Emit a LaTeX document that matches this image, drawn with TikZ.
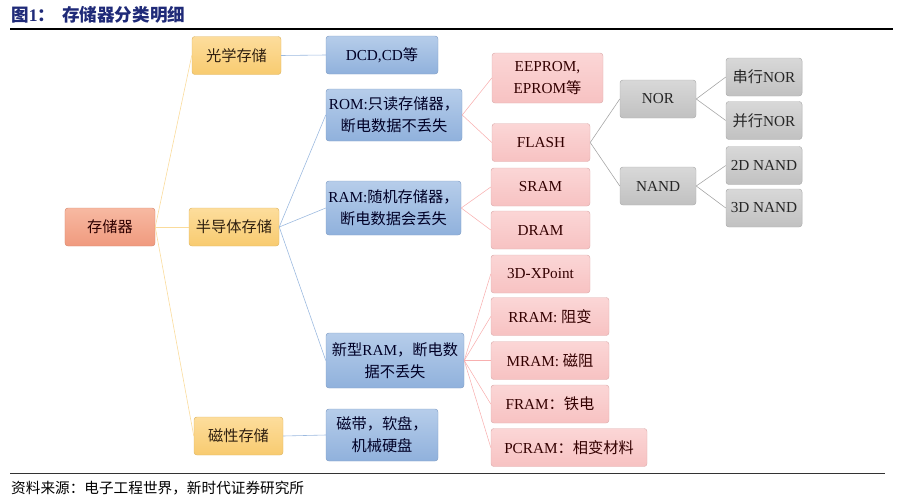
\documentclass[tikz,border=0pt]{standalone}
\usepackage{fontspec}
\setmainfont{Liberation Serif}
\newfontfamily\cjk{Noto Sans CJK SC}
\usepackage{tikz}
\usetikzlibrary{positioning}
\usepackage{xcolor}

\definecolor{titleblue}{HTML}{1F2A78}
\definecolor{rootA}{HTML}{F7B9A2}
\definecolor{rootB}{HTML}{F09A7E}
\definecolor{oneA}{HTML}{FDDD9C}
\definecolor{oneB}{HTML}{F8CB70}
\definecolor{twoA}{HTML}{B6CDEA}
\definecolor{twoB}{HTML}{90B1DC}
\definecolor{threeA}{HTML}{FBD6D6}
\definecolor{threeB}{HTML}{F7C2C2}
\definecolor{fourA}{HTML}{D8D8D8}
\definecolor{fourB}{HTML}{C1C1C1}

\tikzset{
  box/.style={draw, line width=0.4pt, rounded corners=2.5pt, align=center,
    inner sep=1pt, minimum height=1.14cm},
  rootbox/.style={box, draw=rootB!90!black, top color=rootA, bottom color=rootB, text=black!70!red!60!black},
  onebox/.style={box, draw=oneB!90!black, top color=oneA, bottom color=oneB, text=black!75!brown},
  twobox/.style={box, draw=twoB!90!black, top color=twoA, bottom color=twoB, text=black!85!blue},
  threebox/.style={box, draw=threeB!90!black, top color=threeA, bottom color=threeB, text=black!80!red},
  fourbox/.style={box, draw=fourB!90!black, top color=fourA, bottom color=fourB, text=black!85},
  rootline/.style={draw=oneB!70, line width=0.5pt},
  twoline/.style={draw=twoB!90, line width=0.5pt},
  threeline/.style={draw=threeB!90!red, line width=0.45pt},
  fourline/.style={draw=black!35, line width=0.5pt}
}

\begin{document}
\begin{tikzpicture}[x=0.03cm, y=-0.03cm, font=\fontsize{13}{19}\selectfont]
  \useasboundingbox (0,0) rectangle (909,500);

  % Title and rules
  \node[anchor=west, inner sep=0, text=titleblue, font=\fontsize{15}{16}\selectfont\bfseries]
    (title) at (11,15) {{\cjk 图}1{\cjk ：}\hspace{0.4em}{\cjk 存储器分类明细}};
  \draw[line width=1pt] (10,29) -- (893,29);
  \draw[line width=0.8pt, black!80] (10,473) -- (885,473);
  \node[anchor=west, inner sep=0, font=\fontsize{12.5}{14}\selectfont]
    (source) at (11,488) {\cjk 资料来源：电子工程世界，新时代证券研究所};

  % Root and first level
  \node[rootbox, minimum width=2.7cm] (root) at (110,227) {\cjk 存储器};
  \node[onebox, minimum width=2.67cm] (opt) at (236.5,55.5) {\cjk 光学存储};
  \node[onebox, minimum width=2.7cm] (semi) at (234,227) {\cjk 半导体存储};
  \node[onebox, minimum width=2.67cm] (mag) at (238.5,436) {\cjk 磁性存储};

  % Second level
  \node[twobox, minimum width=3.36cm] (dcd) at (382,55) {DCD,CD{\cjk 等}};
  \node[twobox, minimum width=4.08cm, minimum height=1.56cm] (rom) at (394,115)
    {ROM:{\cjk 只读存储器，}\\{\cjk 断电数据不丢失}};
  \node[twobox, minimum width=4.05cm, minimum height=1.62cm] (ram) at (393.5,208)
    {RAM:{\cjk 随机存储器，}\\{\cjk 断电数据会丢失}};
  \node[twobox, minimum width=4.14cm, minimum height=1.65cm] (nram) at (395,360.5)
    {{\cjk 新型}RAM{\cjk ，断电数}\\{\cjk 据不丢失}};
  \node[twobox, minimum width=3.36cm, minimum height=1.56cm] (tape) at (382,435)
    {{\cjk 磁带，软盘，}\\{\cjk 机械硬盘}};

  % Third level
  \node[threebox, minimum width=3.33cm, minimum height=1.5cm] (eeprom) at (547.5,78)
    {EEPROM,\\EPROM{\cjk 等}};
  \node[threebox, minimum width=2.94cm] (flash) at (541,142.5) {FLASH};
  \node[threebox, minimum width=2.97cm] (sram) at (540.5,187) {SRAM};
  \node[threebox, minimum width=2.97cm] (dram) at (540.5,230) {DRAM};
  \node[threebox, minimum width=2.97cm] (xpoint) at (540.5,274) {3D-XPoint};
  \node[threebox, minimum width=3.54cm] (rram) at (550,316.5) {RRAM: {\cjk 阻变}};
  \node[threebox, minimum width=3.54cm] (mram) at (550,360.5) {MRAM: {\cjk 磁阻}};
  \node[threebox, minimum width=3.54cm] (fram) at (550,404) {FRAM{\cjk ：铁电}};
  \node[threebox, minimum width=4.68cm] (pcram) at (569,447.5) {PCRAM{\cjk ：相变材料}};

  % Fourth and fifth level
  \node[fourbox, minimum width=2.28cm] (nor) at (658,99) {NOR};
  \node[fourbox, minimum width=2.28cm] (nand) at (658,186) {NAND};
  \node[fourbox, minimum width=2.28cm] (snor) at (764,77) {{\cjk 串行}NOR};
  \node[fourbox, minimum width=2.28cm] (pnor) at (764,120.5) {{\cjk 并行}NOR};
  \node[fourbox, minimum width=2.28cm] (nandtwo) at (764,165.5) {2D NAND};
  \node[fourbox, minimum width=2.28cm] (nandthree) at (764,208) {3D NAND};

  % Connectors
  \foreach \p/\c in {root/opt, root/semi, root/mag}
    \draw[rootline] (\p.east) -- (\c.west);
  \foreach \p/\c in {opt/dcd, semi/rom, semi/ram, semi/nram, mag/tape}
    \draw[twoline] (\p.east) -- (\c.west);
  \foreach \p/\c in {rom/eeprom, rom/flash, ram/sram, ram/dram,
                     nram/xpoint, nram/rram, nram/mram, nram/fram, nram/pcram}
    \draw[threeline] (\p.east) -- (\c.west);
  \foreach \p/\c in {flash/nor, flash/nand, nor/snor, nor/pnor, nand/nandtwo, nand/nandthree}
    \draw[fourline] (\p.east) -- (\c.west);
\end{tikzpicture}
\end{document}
